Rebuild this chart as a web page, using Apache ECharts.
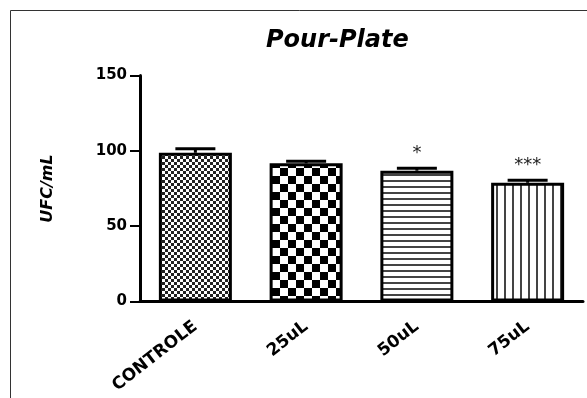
<!DOCTYPE html>
<html>
<head>
<meta charset="utf-8">
<script src="https://cdn.jsdelivr.net/npm/echarts@6/dist/echarts.min.js"></script>
<style>
html,body{margin:0;padding:0;background:#fff;}
#chart{width:587px;height:398px;}
</style>
</head>
<body>
<div id="chart"></div>
<script>
// ---- data ----
const categories = ['CONTROLE', '25uL', '50uL', '75uL'];
const meanValues = [98.7, 91.7, 86.8, 78.8];
const errorValues = [2.6, 1.4, 1.6, 1.6];
const significance = ['', '', '*', '***'];
const yTicks = [0, 50, 100, 150];

// ---- fill patterns ----
function makePattern(w, h, draw) {
  const c = document.createElement('canvas');
  c.width = w; c.height = h;
  const ctx = c.getContext('2d');
  ctx.fillStyle = '#ffffff';
  ctx.fillRect(0, 0, w, h);
  draw(ctx);
  return { image: c, repeat: 'repeat' };
}
const patterns = [
  makePattern(6, 6, ctx => { ctx.fillStyle = '#222'; ctx.fillRect(0,0,3,3); ctx.fillRect(3,3,3,3); }),
  makePattern(16, 16, ctx => { ctx.fillStyle = '#000'; ctx.fillRect(0,0,8,8); ctx.fillRect(8,8,8,8); }),
  makePattern(6, 6, ctx => { ctx.fillStyle = '#444'; ctx.fillRect(0,0,6,2); }),
  makePattern(8, 8, ctx => { ctx.fillStyle = '#444'; ctx.fillRect(0,0,2,8); })
];

const chart = echarts.init(document.getElementById('chart'), null, { renderer: 'canvas' });
const FONT = 'DejaVu Sans';

const option = {
  backgroundColor: '#ffffff',
  animation: false,
  title: {
    text: 'Pour-Plate',
    left: 261,
    top: 24,
    textStyle: { fontFamily: FONT, fontSize: 24, fontWeight: 'bold', fontStyle: 'italic', color: '#000' }
  },
  graphic: [
    { type: 'rect', shape: { x: 10.5, y: 10.5, width: 640, height: 420 },
      style: { fill: 'none', stroke: '#333', lineWidth: 1 }, silent: true, z: -1 }
  ],
  grid: { left: 140, right: 4, top: 75.5, bottom: 96.5, containLabel: false },
  xAxis: {
    type: 'category',
    data: categories,
    axisLine: { lineStyle: { color: '#000', width: 3 } },
    axisTick: { alignWithLabel: true, length: 7, lineStyle: { color: '#000', width: 2 } },
    axisLabel: { interval: 0, rotate: 38, margin: 23, color: '#000', fontFamily: FONT, fontSize: 17, fontWeight: 'bold' }
  },
  yAxis: {
    type: 'value',
    min: yTicks[0],
    max: yTicks[yTicks.length - 1],
    interval: 50,
    name: 'UFC/mL',
    nameLocation: 'middle',
    nameRotate: 90,
    nameGap: 84,
    nameTextStyle: { fontFamily: FONT, fontSize: 16, fontWeight: 'bold', fontStyle: 'italic', color: '#000' },
    axisLine: { show: true, lineStyle: { color: '#000', width: 3 } },
    axisTick: { show: true, length: 10, lineStyle: { color: '#000', width: 2 } },
    axisLabel: { margin: 13, color: '#000', fontFamily: FONT, fontSize: 15, fontWeight: 'bold' },
    splitLine: { show: false }
  },
  series: [
    {
      type: 'bar',
      barWidth: 73,
      data: meanValues.map((v, i) => ({ value: v, itemStyle: { color: patterns[i] } })),
      itemStyle: { borderColor: '#000', borderWidth: 3 },
      z: 2
    },
    {
      type: 'custom',
      z: 3,
      data: meanValues.map((v, i) => [i, v, errorValues[i]]),
      renderItem: function (params, api) {
        const i = api.value(0);
        const base = api.coord([i, api.value(1)]);
        const top = api.coord([i, api.value(1) + api.value(2)]);
        const half = 20;
        const children = [
          { type: 'line', shape: { x1: top[0], y1: base[1], x2: top[0], y2: top[1] }, style: { stroke: '#000', lineWidth: 3 } },
          { type: 'line', shape: { x1: top[0] - half, y1: top[1], x2: top[0] + half, y2: top[1] }, style: { stroke: '#000', lineWidth: 3 } }
        ];
        const sig = significance[params.dataIndex];
        if (sig) {
          children.push({ type: 'text', style: { text: sig, x: top[0], y: top[1] - 15, textAlign: 'center', textVerticalAlign: 'middle', fontFamily: FONT, fontSize: 18, fill: '#222' } });
        }
        return { type: 'group', children: children };
      }
    }
  ]
};
chart.setOption(option);
</script>
</body>
</html>
